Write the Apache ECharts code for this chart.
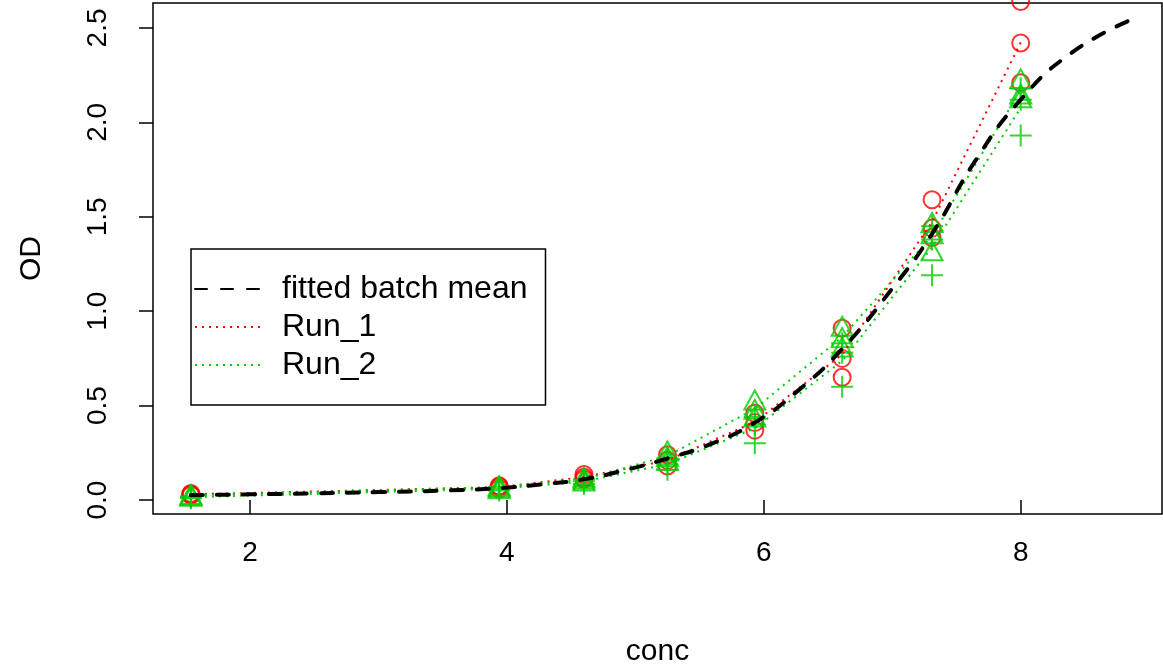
<!DOCTYPE html>
<html>
<head>
<meta charset="utf-8">
<script src="https://cdn.jsdelivr.net/npm/echarts@6/dist/echarts.min.js"></script>
<style>
  html, body { margin: 0; padding: 0; background: #fff; }
  #chart { width: 1163px; height: 666px; }
</style>
</head>
<body>
<div id="chart"></div>
<script>
// concentrations (x) shared by all runs
const conc = [1.54, 3.94, 4.6, 5.25, 5.93, 6.61, 7.31, 8.0];

// Run_1 replicates (red circles), three per conc
const run1Circles = [
  [0.035, 0.03, 0.025],
  [0.075, 0.07, 0.06],
  [0.135, 0.12, 0.11],
  [0.24, 0.21, 0.18],
  [0.46, 0.41, 0.37],
  [0.91, 0.75, 0.65],
  [1.59, 1.44, 1.39],
  [2.64, 2.42, 2.21]
];
// Run_2 replicates (green triangles / green plus)
const run2Triangles = [
  [0.03, 0.025, 0.02],
  [0.075, 0.068, 0.06],
  [0.12, 0.11, 0.10],
  [0.26, 0.23, 0.21],
  [0.53, 0.48, 0.44],
  [0.92, 0.86, 0.81],
  [1.47, 1.41, 1.32],
  [2.23, 2.15, 2.13]
];
const run2Plus = [
  [0.02, 0.015, 0.01],
  [0.07, 0.06, 0.05],
  [0.11, 0.10, 0.085],
  [0.22, 0.19, 0.16],
  [0.44, 0.40, 0.30],
  [0.83, 0.78, 0.60],
  [1.45, 1.38, 1.19],
  [2.18, 2.12, 1.93]
];

// dotted run lines
const run1Line = [0.03, 0.068, 0.122, 0.21, 0.413, 0.77, 1.473, 2.423];
const run2TriLine = [0.025, 0.068, 0.11, 0.233, 0.483, 0.863, 1.40, 2.17];
const run2PlusLine = [0.015, 0.06, 0.098, 0.19, 0.38, 0.737, 1.34, 2.077];

// fitted batch mean curve
const fitConc = [1.54, 2.0, 2.5, 3.0, 3.5, 3.94, 4.3, 4.6, 4.9, 5.25, 5.6, 5.93, 6.25, 6.61, 7.0, 7.31, 7.65, 8.0, 8.4, 8.85];
const fitOD = [0.026, 0.03, 0.035, 0.042, 0.05, 0.063, 0.085, 0.11, 0.155, 0.22, 0.30, 0.41, 0.57, 0.80, 1.12, 1.41, 1.80, 2.12, 2.37, 2.54];

const xTicks = [2, 4, 6, 8];
const yTicks = [0, 0.5, 1.0, 1.5, 2.0, 2.5];

const RED = '#FF0000';
const GREEN = '#00CD00';
const NONE = 'rgba(0,0,0,0)';
const FONT = 'Liberation Sans, Arial, Helvetica, sans-serif';

function pairs(xs, ys) {
  return xs.map((x, i) => [x, ys[i]]);
}
function reps(xs, table) {
  let out = [];
  table.forEach((row, i) => row.forEach(v => out.push([xs[i], v])));
  return out;
}

let myChart = echarts.init(document.getElementById('chart'), null, { renderer: 'canvas' });
myChart.setOption({
  animation: false,
  backgroundColor: '#fff',
  grid: {
    left: 153, right: 1, top: 3, bottom: 152,
    containLabel: false,
    outerBoundsMode: 'none',
    show: true, borderColor: '#000', borderWidth: 1.5, backgroundColor: 'transparent'
  },
  legend: {
    data: ['fitted batch mean', 'Run_1', 'Run_2'],
    orient: 'vertical',
    left: 191, top: 249,
    padding: [24, 18, 24, 3],
    itemGap: 6,
    itemWidth: 68,
    itemHeight: 14,
    borderColor: '#000',
    borderWidth: 1.5,
    borderRadius: 0,
    textStyle: { fontFamily: FONT, fontSize: 32, color: '#000', lineHeight: 32, padding: [0, 0, 0, 14] }
  },
  xAxis: {
    type: 'value',
    min: 1.245, max: 9.10,
    name: 'conc',
    nameLocation: 'middle',
    nameGap: 123,
    nameTextStyle: { fontFamily: FONT, fontSize: 30, color: '#000' },
    axisLine: { show: false },
    axisTick: { show: true, inside: false, length: 14, customValues: xTicks, lineStyle: { color: '#000', width: 1.5 } },
    axisLabel: { customValues: xTicks, margin: 25, fontFamily: FONT, fontSize: 28, color: '#000' },
    splitLine: { show: false }
  },
  yAxis: {
    type: 'value',
    min: -0.074, max: 2.632,
    name: 'OD',
    nameLocation: 'middle',
    nameGap: 106,
    nameRotate: 90,
    nameTextStyle: { fontFamily: FONT, fontSize: 30, color: '#000' },
    axisLine: { show: false },
    axisTick: { show: true, inside: false, length: 14, customValues: yTicks, lineStyle: { color: '#000', width: 1.5 } },
    axisLabel: {
      customValues: yTicks, rotate: 90, margin: 41,
      fontFamily: FONT, fontSize: 28, color: '#000',
      formatter: v => v.toFixed(1)
    },
    splitLine: { show: false }
  },
  series: [
    {
      name: 'Run_1 points', type: 'scatter', z: 2, clip: false,
      symbol: 'circle', symbolSize: 17,
      itemStyle: { color: NONE, borderColor: RED, borderWidth: 2 },
      data: reps(conc, run1Circles)
    },
    {
      name: 'Run_2 triangles', type: 'scatter', z: 3, clip: false,
      symbol: 'triangle', symbolSize: [21, 19],
      itemStyle: { color: NONE, borderColor: GREEN, borderWidth: 2 },
      data: reps(conc, run2Triangles)
    },
    {
      name: 'Run_2 plus', type: 'scatter', z: 3, clip: false,
      symbol: 'path://M10,0V20M0,10H20', symbolSize: 22,
      itemStyle: { color: NONE, borderColor: GREEN, borderWidth: 2 },
      data: reps(conc, run2Plus)
    },
    {
      name: 'Run_1', type: 'line', z: 4, symbol: 'none', smooth: false,
      lineStyle: { color: RED, width: 2, type: [2, 5] },
      itemStyle: { color: NONE },
      data: pairs(conc, run1Line)
    },
    {
      name: 'Run_2', type: 'line', z: 4, symbol: 'none', smooth: false,
      lineStyle: { color: GREEN, width: 2, type: [2, 5] },
      itemStyle: { color: NONE },
      data: pairs(conc, run2TriLine)
    },
    {
      name: 'Run_2', type: 'line', z: 4, symbol: 'none', smooth: false,
      lineStyle: { color: GREEN, width: 2, type: [2, 5] },
      itemStyle: { color: NONE },
      data: pairs(conc, run2PlusLine)
    },
    {
      name: 'fitted batch mean', type: 'line', z: 5, symbol: 'none', smooth: true,
      lineStyle: { color: '#000', width: 4, type: [12, 14], cap: 'round' },
      itemStyle: { color: NONE },
      data: pairs(fitConc, fitOD)
    }
  ]
});
</script>
</body>
</html>
